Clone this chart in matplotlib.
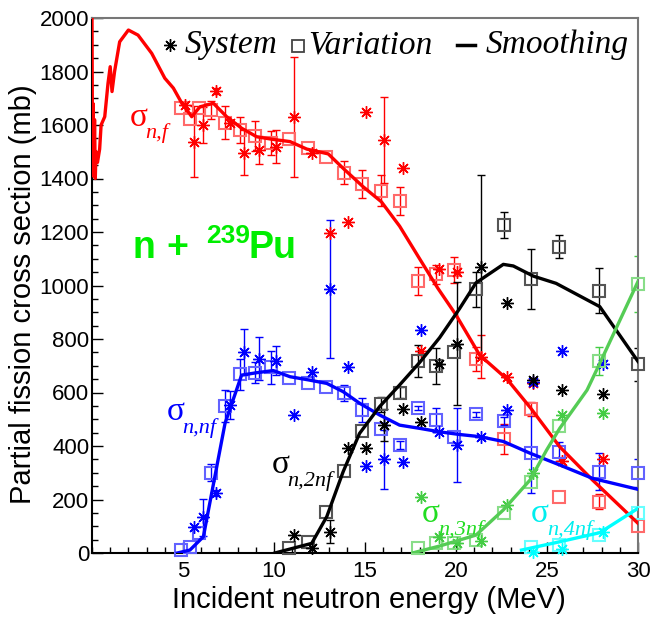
import numpy as np
import matplotlib.pyplot as plt
from matplotlib.ticker import MultipleLocator

# ---- smoothing curves ----
e_f = [0.0, 0.03, 0.06, 0.1, 0.14, 0.18, 0.22, 0.3, 0.42, 0.5, 0.7, 0.88, 1.0, 1.1,
       1.24, 1.52, 2.0, 2.53, 3.28, 4.0, 4.47, 4.93, 5.48, 5.93, 6.67, 7.4, 8.22,
       9.05, 9.96, 10.88, 11.8, 12.98, 13.8, 14.9, 15.9, 16.9, 18.0, 19.0, 20.0,
       21.3, 22.8, 24.1, 25.7, 27.5, 30.0]
sig_f = [2000, 1410, 1680, 1420, 1620, 1400, 1500, 1460, 1510, 1600, 1631, 1756, 1818,
         1725, 1800, 1911, 1955, 1936, 1868, 1775, 1738, 1682, 1631, 1668, 1681, 1631,
         1588, 1556, 1546, 1538, 1510, 1492, 1438, 1369, 1313, 1222, 1100, 990, 890,
         740, 650, 542, 397, 273, 111]

e_nf = [4.69, 5.38, 6.12, 7.31, 8.22, 9.05, 9.96, 10.88, 11.9, 12.9, 13.8, 14.7, 15.8,
        16.9, 18.0, 19.1, 20.2, 21.3, 22.6, 24.07, 25.7, 27.5, 30.0]
sig_nf = [0, 11, 61, 485, 665, 674, 682, 659, 647, 634, 603, 560, 516, 478, 466, 453,
          443, 435, 417, 373, 329, 279, 238]

e_2nf = [10.05, 12.07, 12.9, 13.8, 14.7, 15.8, 16.9, 18.0, 19.1, 20.2, 21.1, 22.6,
         23.15, 24.25, 25.5, 27.9, 30.0]
sig_2nf = [0, 36, 136, 304, 447, 547, 628, 712, 805, 914, 1010, 1079, 1073, 1035,
           1008, 921, 716]

e_3nf = [17.66, 19.1, 21.1, 22.6, 24.07, 24.98, 25.7, 27.2, 27.9, 30.0]
sig_3nf = [1, 26, 67, 161, 273, 385, 466, 609, 709, 1015]

e_4nf = [23.6, 25.7, 27.9, 30.0]
sig_4nf = [11, 42, 76, 167]

# ---- "Variation" points (squares) ----
e_var = [4.88, 5.37, 5.9, 6.53, 7.3, 8.13, 8.93, 9.83, 10.83, 11.87, 12.87, 13.87,
         14.86, 15.86, 16.9, 17.9, 18.9, 19.9, 21.12, 22.64, 24.1, 25.66, 27.86, 30.0]
nan = np.nan
var_f = [1665, 1624, 1662, 1656, 1609, 1581, 1559, 1534, 1546, 1513, 1481, 1422,
         1378, 1354, 1316, 1018, 1042, 1058, 724, 426, 538, 211, 192, 102]
var_f_err = [0, 0, 0, 35, 61, 50, 55, 45, 0, 0, 0, 43, 52, 58, 51, 53, 36, 49, 45,
             56, 25, 0, 28, 0]
var_nf = [11, 24, 74, 300, 550, 668, 674, 694, 653, 637, 622, 599, 533, 464, 404,
          543, 497, 435, 518, 494, 373, 379, 304, 298]
var_nf_err = [0, 0, 0, 31, 60, 58, 40, 61, 0, 0, 0, 30, 45, 0, 15, 8, 44, 0, 8, 15,
              147, 35, 70, 53]
var_2nf = [nan] * 8 + [17, 42, 155, 308, 455, 556, 599, 718, 700, 752, 986, 1226,
                       1024, 1145, 981, 705]
var_2nf_err = [0] * 8 + [0, 0, 0, 0, 0, 28, 20, 60, 68, 0, 65, 50, 112, 44, 83, 62]
var_3nf = [nan] * 15 + [17, 36, 36, 49, 148, 267, 473, 718, 1006]
var_3nf_err = [0] * 15 + [0, 0, 0, 0, 0, 0, 0, 52, 105]
var_4nf = [nan] * 20 + [24, 30, 67, 148]

# ---- "System" points (asterisks) ----
e_sys = [5.1, 5.6, 6.12, 6.8, 7.6, 8.36, 9.19, 10.1, 11.08, 12.07, 13.08, 14.06,
         15.05, 16.04, 17.07, 18.08, 19.07, 20.07, 21.35, 22.8, 24.25, 25.84, 28.1]
sys_f = [1675, 1538, 1600, 1728, 1606, 1497, 1507, 1519, 1631, 1494, 1195, 1239,
         1647, 1544, 1438, 756, 1063, 1052, 734, 657, 634, 345, 351]
sys_f_err = [0, 133, 68, 11, 0, 84, 52, 61, 225, 0, 0, 0, 0, 162, 0, 0, 0, 0, 81,
             0, 0, 0, 0]
sys_nf = [nan, 98, 133, 225, 553, 753, 727, 718, 516, 676, 986, 697, 325, 350, 342,
          834, 454, 404, 435, 535, 638, 756, 707]
sys_nf_err = [0, 0, 68, 12, 53, 86, 80, 54, 0, 0, 258, 0, 0, 109, 0, 0, 0, 137, 0,
              0, 0, 0, 0]
sys_2nf = [nan] * 8 + [67, 20, 80, 391, 391, 478, 537, 491, 708, 783, 1071, 936,
                       647, 609, 593]
sys_2nf_err = [0] * 8 + [0, 0, 43, 0, 0, 60, 0, 0, 0, 230, 342, 0, 0, 0, 0]
sys_3nf = [nan] * 15 + [211, 59, 39, 46, 179, 298, 516, 522]
sys_4nf = [nan] * 20 + [3, 14, 80]

plt.rcParams['font.family'] = ['Liberation Sans', 'DejaVu Sans']

fig = plt.figure(figsize=(6.52, 6.18), dpi=100)
ax = fig.add_axes([92 / 652, 1 - 553 / 618, 546 / 652, 535 / 618])

STAR = (8, 2, 0)


def draw_set(e_v, v, v_err, e_s, s, s_err, ex, sx, col, sq_col, line_col, lw=2.4):
    e_v = np.array(e_v); v = np.array(v, dtype=float)
    e_s = np.array(e_s); s = np.array(s, dtype=float)
    if v_err is not None:
        v_err = np.array(v_err, dtype=float)
        m = v_err > 0
        ax.errorbar(e_v[m], v[m], yerr=v_err[m], fmt='none', ecolor=col,
                    elinewidth=1, capsize=3, capthick=1, zorder=2)
    if s_err is not None:
        s_err = np.array(s_err, dtype=float)
        m = s_err > 0
        ax.errorbar(e_s[m], s[m], yerr=s_err[m], fmt='none', ecolor=col,
                    elinewidth=1, capsize=3, capthick=1, zorder=2)
    ax.plot(e_v, v, ls='none', marker='s', ms=8, mfc='none', mec=sq_col, mew=1.5,
            zorder=3, clip_on=False)
    ax.plot(e_s, s, ls='none', marker=STAR, ms=9, mec=col, mfc=col, mew=1,
            zorder=3, clip_on=False)
    ax.plot(ex, sx, color=line_col, lw=lw, zorder=4, solid_joinstyle='round')


draw_set(e_var, var_f, var_f_err, e_sys, sys_f, sys_f_err, e_f, sig_f,
         '#ff0000', '#ff6a6a', '#ff0000')
draw_set(e_var, var_nf, var_nf_err, e_sys, sys_nf, sys_nf_err, e_nf, sig_nf,
         '#0000ff', '#6262ff', '#0000ff')
draw_set(e_var, var_2nf, var_2nf_err, e_sys, sys_2nf, sys_2nf_err, e_2nf, sig_2nf,
         '#000000', '#555555', '#000000')
draw_set(e_var, var_3nf, var_3nf_err, e_sys, sys_3nf, None, e_3nf, sig_3nf,
         '#44cc44', '#88dd88', '#55cc55')
draw_set(e_var, var_4nf, None, e_sys, sys_4nf, None, e_4nf, sig_4nf,
         '#00ffff', '#66ffff', '#00ffff')

ax.set_xlim(0, 30)
ax.set_ylim(0, 2000)
ax.xaxis.set_major_locator(MultipleLocator(5))
ax.xaxis.set_minor_locator(MultipleLocator(1))
ax.yaxis.set_major_locator(MultipleLocator(200))
ax.yaxis.set_minor_locator(MultipleLocator(50))
ax.tick_params(which='both', direction='in', top=False, right=False, width=1)
ax.tick_params(which='major', length=8)
ax.tick_params(which='minor', length=4.5)
ax.tick_params(axis='x', labelsize=16, pad=6)
ax.tick_params(axis='y', labelsize=16, pad=2)
ax.set_xticks([5, 10, 15, 20, 25, 30])
for sp in ['left', 'bottom']:
    ax.spines[sp].set_linewidth(1.5)
for sp in ['top', 'right']:
    ax.spines[sp].set_color('#777777')
    ax.spines[sp].set_linewidth(1.5)

fig.text(369 / 652, 1 - 600 / 618, 'Incident neutron energy (MeV)', fontsize=21,
         ha='center', va='center')
fig.text(23 / 652, 1 - 294 / 618, 'Partial fission cross section (mb)', fontsize=21,
         ha='center', va='center', rotation=90)

# legend drawn by hand, ROOT style
leg_font = dict(family='Liberation Serif', style='italic', fontsize=24,
                va='baseline', transform=ax.transAxes)
ax.plot([78 / 546], [1 - 27 / 535], marker=STAR, ms=9, color='k', mew=1,
        transform=ax.transAxes, clip_on=False)
ax.text(93 / 546, 1 - 35 / 535, 'System', **leg_font)
ax.plot([206 / 546], [1 - 28 / 535], marker='s', ms=8, mfc='none', mec='#444444',
        mew=1.3, transform=ax.transAxes, clip_on=False)
ax.text(216 / 546, 1 - 35 / 535, 'Variation', **leg_font)
ax.plot([365 / 546, 383 / 546], [1 - 27 / 535] * 2, color='k', lw=2.5,
        transform=ax.transAxes)
ax.text(394 / 546, 1 - 35 / 535, 'Smoothing', **leg_font)


def sigma_label(x, y, sub, col, fs=24, sfs=16):
    ax.text(x, y, '\u03c3', color=col, fontsize=fs, family='Liberation Serif',
            va='baseline')
    ax.text(x + 0.9, y - 48, sub, color=col, fontsize=sfs, family='Liberation Serif',
            style='italic', va='baseline')


sigma_label(2.05, 1598, 'n,f', '#ff0000')
sigma_label(4.08, 497, 'n,nf', '#0000ff')
sigma_label(9.85, 299, 'n,2nf', '#000000')
sigma_label(18.1, 116, 'n,3nf', '#22dd22')
sigma_label(24.1, 116, 'n,4nf', '#00eeee')

green = '#00ee00'
big = dict(color=green, fontsize=27, fontweight='bold', va='baseline')
ax.text(2.2, 1103, 'n', **big)
ax.text(4.1, 1103, '+', **big)
ax.text(6.26, 1159, '239', color=green, fontsize=19, fontweight='bold', va='baseline')
ax.text(8.6, 1103, 'Pu', **big)

fig.savefig('out.png', dpi=100)
